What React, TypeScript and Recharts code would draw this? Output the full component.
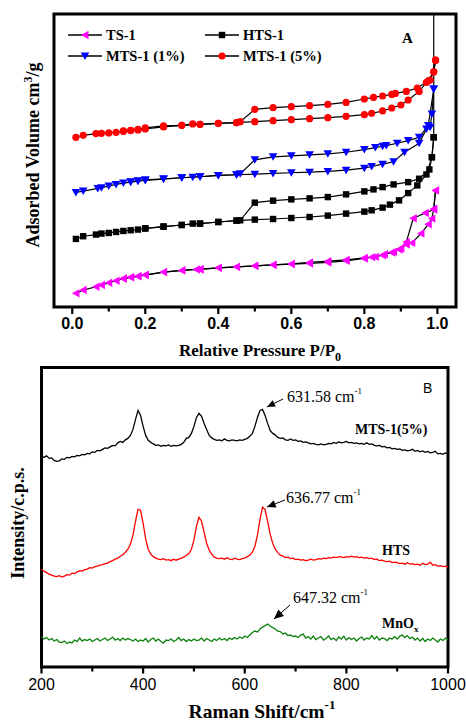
import { LineChart, Line, XAxis, YAxis, ReferenceArea } from "recharts"

// ---- Panel A: N2 isotherms, [P/P0, adsorbed volume (arb. units)] ----
const ts1Ads: [number, number][] = [
  [0.01, 13.7], [0.03, 17], [0.065, 20.3], [0.08, 22], [0.1, 24.3], [0.12, 26.3], [0.14, 28.3],
  [0.16, 29.7], [0.18, 30.7], [0.2, 32], [0.25, 35], [0.3, 36.7], [0.34, 37.7], [0.35, 37.7],
  [0.4, 39.3], [0.45, 40.3], [0.5, 41.3], [0.55, 42.3], [0.6, 43], [0.65, 43.7], [0.7, 44.7],
  [0.75, 46.3], [0.8, 48.7], [0.82, 50], [0.85, 52], [0.875, 54.7], [0.895, 57.7], [0.915, 62.7],
  [0.93, 64.3], [0.955, 73.7], [0.975, 83], [0.985, 88.7], [0.99, 98.7], [0.995, 117],
]
const ts1Des: [number, number][] = [
  [0.995, 117], [0.99, 97.7], [0.967, 94.3], [0.934, 89], [0.915, 65.3], [0.9, 58.7], [0.88, 55.3],
  [0.855, 53], [0.83, 50.3], [0.8, 49.3], [0.75, 47.3], [0.7, 46], [0.65, 44.7], [0.6, 43.3],
  [0.55, 42.3], [0.5, 41.3], [0.45, 40.3], [0.4, 39.3], [0.35, 38], [0.3, 36.7], [0.25, 35],
  [0.2, 32.3], [0.18, 31], [0.16, 30], [0.14, 28.7],
]
const htsAds: [number, number][] = [
  [0.01, 68.3], [0.03, 71], [0.065, 72.7], [0.08, 73.7], [0.1, 74.3], [0.12, 75.3], [0.14, 76.3],
  [0.16, 77], [0.18, 77.7], [0.2, 79], [0.25, 80.7], [0.3, 82.3], [0.33, 83.7], [0.35, 83.7],
  [0.4, 85.3], [0.45, 86.7], [0.5, 87.7], [0.55, 88.3], [0.6, 89.3], [0.65, 90.3], [0.7, 91.7],
  [0.75, 93.7], [0.8, 95.7], [0.82, 97], [0.85, 99.7], [0.87, 102.7], [0.895, 107], [0.92, 114.3],
  [0.945, 122], [0.97, 133], [0.985, 150.3], [0.99, 170.3], [0.99, 330],
]
const htsDes: [number, number][] = [
  [0.99, 170.3], [0.985, 150.3], [0.978, 138], [0.95, 128.7], [0.92, 125.3], [0.88, 123],
  [0.85, 120.3], [0.825, 118], [0.8, 116], [0.75, 113], [0.7, 110.3], [0.65, 109], [0.6, 108],
  [0.55, 106.7], [0.5, 104.7], [0.46, 87], [0.45, 86.7], [0.4, 85.3], [0.35, 83.7], [0.3, 82.3],
  [0.25, 80.7], [0.2, 78.7],
]
const mts1Ads: [number, number][] = [
  [0.01, 115], [0.03, 116.3], [0.07, 119], [0.08, 119.7], [0.1, 121.3], [0.12, 123], [0.14, 124.3],
  [0.16, 125.3], [0.18, 126.3], [0.2, 127], [0.25, 128.3], [0.3, 129.7], [0.33, 130.3], [0.35, 130.7],
  [0.4, 132], [0.45, 132.7], [0.5, 133.3], [0.55, 134], [0.6, 134.7], [0.65, 135.3], [0.7, 136],
  [0.75, 137.3], [0.8, 139.3], [0.82, 141], [0.85, 143.3], [0.88, 145.7], [0.91, 155.3], [0.95, 164.3],
  [0.97, 178.7], [0.98, 180.3], [0.985, 193.7], [0.99, 218.7],
]
const mts1Des: [number, number][] = [
  [0.99, 218.7], [0.975, 182], [0.95, 170.3], [0.92, 167], [0.89, 164.3], [0.86, 162], [0.85, 161.3],
  [0.83, 160], [0.8, 158], [0.75, 155.3], [0.7, 153.7], [0.65, 152.7], [0.6, 151.7], [0.55, 150.7],
  [0.5, 147.7], [0.46, 133.7], [0.45, 132.7], [0.4, 132], [0.35, 130.7], [0.3, 129.7], [0.25, 128.7],
  [0.2, 127.7], [0.18, 126.7], [0.16, 125.7],
]
const mts5Ads: [number, number][] = [
  [0.01, 170.3], [0.03, 172.3], [0.065, 174], [0.08, 174.3], [0.1, 174.7], [0.12, 175.3], [0.14, 176.3],
  [0.16, 177], [0.18, 177.7], [0.2, 178.7], [0.25, 180.7], [0.3, 182.3], [0.33, 183.7], [0.35, 183.3],
  [0.4, 184.3], [0.45, 185], [0.5, 186], [0.55, 187], [0.6, 188], [0.65, 189], [0.7, 190],
  [0.75, 191.3], [0.8, 193], [0.82, 194.3], [0.85, 196.7], [0.875, 199.7], [0.9, 202.7], [0.92, 207.7],
  [0.95, 216.3], [0.97, 225.3], [0.98, 227.7], [0.99, 236], [0.995, 247.7],
]
const mts5Des: [number, number][] = [
  [0.995, 247.7], [0.99, 236], [0.975, 227], [0.945, 219.7], [0.915, 216.3], [0.885, 214.3],
  [0.875, 213.3], [0.85, 211.7], [0.825, 210.3], [0.8, 208.7], [0.75, 205.3], [0.7, 203.3],
  [0.65, 202], [0.6, 201], [0.55, 200], [0.5, 198.3], [0.46, 186], [0.45, 185], [0.4, 184.3],
  [0.35, 183.3], [0.3, 182.3], [0.25, 181.7], [0.2, 179.7], [0.18, 178.3], [0.16, 177.3], [0.14, 176.7],
]
const pressureTicks = [0, 0.1, 0.2, 0.3, 0.4, 0.5, 0.6, 0.7, 0.8, 0.9, 1.0]
const pressureLabels = ["0.0", "", "0.2", "", "0.4", "", "0.6", "", "0.8", "", "1.0"]

// ---- Panel B: Raman spectra, sampled every 5 cm-1 from 200 to 1000 ----
const shiftStart = 200
const shiftStep = 5
const mts5Raman = [
  217, 216, 217.5, 215, 215.5, 213, 212, 212.5, 214.5, 214, 216, 215.5, 217, 216.5, 218, 217.5,
  219, 218.5, 220, 219.5, 221.5, 221, 223, 222.5, 224, 225.5, 225, 226.5, 228, 227.5, 230.5, 232,
  231, 233.5, 235, 238, 244, 254, 263, 258, 247, 238, 233, 231, 229.5, 228, 228.5, 227, 228, 227.5,
  228.5, 227, 228, 227.5, 228, 229, 231, 235, 236, 240, 247, 256, 260, 257, 250, 244, 238, 235.5,
  234, 233, 233.5, 232.5, 234.5, 233, 232.5, 233.5, 233, 232.5, 233.5, 233, 234, 235, 237, 240, 247,
  256, 263, 264, 258, 250, 243, 240, 238.5, 236, 235, 235.5, 233.5, 233, 234.5, 233, 233.5, 232,
  232.5, 231, 231.5, 230.5, 229.5, 230, 229, 228.5, 229.5, 228.5, 229, 230, 229.5, 231, 230, 231.5,
  230.5, 231, 232, 230.5, 231, 230, 230.5, 229.5, 230, 229, 230.5, 229, 229.5, 228, 227.5, 228,
  226.5, 227, 225.5, 226, 224.5, 225, 224, 224.5, 223, 223.5, 222.5, 223, 224, 222, 223, 221.5,
  222.5, 221, 222, 220.5, 221, 222, 219.5, 220, 219, 220.5, 219.5,
]
const htsRaman = [
  104, 102, 100.5, 99, 98, 97, 96.5, 97.5, 96, 97, 98.5, 98, 100, 99.5, 101, 102.5, 102, 103.5, 104,
  105.5, 105, 106.5, 107, 108, 108.5, 109.5, 110, 111.5, 112.5, 114, 115, 117, 118.5, 121, 124, 129,
  138, 152, 164, 163, 150, 134, 124, 119, 116.5, 115, 114, 113.5, 114.5, 113, 113.5, 112.5, 114, 113,
  114, 115, 116, 118, 119.5, 124, 133, 147, 156, 152, 141, 130, 123, 119, 116, 115, 114.5, 115, 114,
  115.5, 114, 113.5, 115, 114, 113.5, 114.5, 115, 116.5, 118, 121, 127, 138, 154, 166, 164, 152, 139,
  130, 124, 120.5, 118, 117, 115.5, 116, 114.5, 115, 113.5, 114, 113, 113.5, 112.5, 113, 114, 113,
  113.5, 114.5, 114, 115, 114.5, 115.5, 115, 116, 115.5, 116.5, 116, 115.5, 116.5, 116, 117, 116,
  116.5, 115.5, 116, 115, 115.5, 114.5, 115, 113.5, 114, 112.5, 113, 112, 111.5, 112, 110.5, 111,
  110.5, 109.5, 110, 109, 110.5, 109, 109.5, 108.5, 109, 108, 110, 108.5, 109, 111, 108, 108.5, 107,
  107.5, 106.5, 107, 106,
]
const mnoxRaman = [
  36, 34, 35.5, 33, 34.5, 32, 33.5, 31, 30.5, 32, 29.5, 31, 30, 33, 31.5, 35, 32, 33.5, 32.5, 34,
  31.5, 33, 34.5, 32, 33.5, 35, 32.5, 34, 36, 33, 34.5, 32.5, 35, 33, 34.5, 33.5, 32, 34, 31.5, 33,
  32, 34.5, 31, 33.5, 35, 32, 34, 31.5, 30, 33, 32.5, 34, 31.5, 33, 35.5, 32.5, 34, 31.5, 33.5, 32,
  34, 32.5, 33, 35, 32, 34.5, 33, 31.5, 34, 32.5, 35, 33, 34.5, 32.5, 35, 33.5, 35.5, 34, 36, 34.5,
  37, 35.5, 38, 40.5, 42, 41, 44, 46, 47.5, 49, 47, 45.5, 44, 42, 41.5, 39, 40, 37.5, 38, 36.5, 37,
  35.5, 38, 39, 35, 36.5, 34, 37, 33.5, 35, 36.5, 33, 34.5, 37, 33.5, 35, 32.5, 36, 34, 37, 33, 35.5,
  33.5, 35, 32, 34.5, 36, 33, 35, 34, 37.5, 34, 36.5, 33, 35, 34.5, 32.5, 35, 34, 36.5, 34, 37, 38,
  35.5, 37.5, 34.5, 36, 33, 35, 32, 34.5, 31.5, 34, 32.5, 35, 33, 31, 34, 32.5, 35, 33,
]
const shiftTicks = [200, 300, 400, 500, 600, 700, 800, 900, 1000]
const shiftLabels = ["200", "", "400", "", "600", "", "800", "", "1000"]

const ramanData = mts5Raman.map((v, i) => ({
  w: shiftStart + i * shiftStep,
  mts5: v,
  hts: htsRaman[i],
  mnox: mnoxRaman[i],
}))

const toPoints = (arr: [number, number][]) => arr.map(([p, v]) => ({ p, v }))

const serif = "Liberation Serif"
const sans = "Liberation Sans"

const TS_COLOR = "#ff00ff"
const MTS1_COLOR = "#0000ff"
const MTS5_COLOR = "#ff0000"

const P_DOMAIN: [number, number] = [-0.05, 1.051]
const V_DOMAIN: [number, number] = [0, 294]
const W_DOMAIN: [number, number] = [200, 1000]
const I_DOMAIN: [number, number] = [6, 306]
const TICK_GAP = 10

function markerShape(kind: string, cx: number, cy: number, key?: string | number) {
  if (kind === "left")
    return <path key={key} d={`M${cx - 4},${cy} L${cx + 3.5},${cy - 4.2} L${cx + 3.5},${cy + 4.2} Z`} fill={TS_COLOR} />
  if (kind === "square")
    return <rect key={key} x={cx - 3.2} y={cy - 3.2} width={6.4} height={6.4} fill="#000" />
  if (kind === "down")
    return <path key={key} d={`M${cx - 4.3},${cy - 3.5} L${cx + 4.3},${cy - 3.5} L${cx},${cy + 4} Z`} fill={MTS1_COLOR} />
  return <circle key={key} cx={cx} cy={cy} r={3.6} fill={MTS5_COLOR} />
}

const dotFor = (kind: string) => (props: any) => {
  const { cx, cy, index } = props
  if (cx == null || cy == null) return <g key={index} />
  return markerShape(kind, cx, cy, index)
}

// tick mark + label drawn together (the axis sits TICK_GAP above the y we get)
const PressureTick = (props: any) => {
  const { x, y, payload } = props
  const axisY = y - TICK_GAP
  const label = pressureLabels[pressureTicks.indexOf(payload.value)]
  return (
    <g>
      <line x1={x} x2={x} y1={axisY} y2={axisY + (label ? 7 : 4.5)} stroke="#000" strokeWidth={2.2} />
      {label ? (
        <text x={x} y={axisY + 21.5} textAnchor="middle" fontFamily={sans} fontWeight={700} fontSize={16} fill="#000">
          {label}
        </text>
      ) : null}
    </g>
  )
}

const ShiftTick = (props: any) => {
  const { x, y, payload } = props
  const axisY = y - TICK_GAP
  const label = shiftLabels[shiftTicks.indexOf(payload.value)]
  return (
    <g>
      <line x1={x} x2={x} y1={axisY} y2={axisY + (label ? 6.5 : 4.5)} stroke="#000" strokeWidth={2.2} />
      {label ? (
        <text x={x} y={axisY + 23} textAnchor="middle" fontFamily={sans} fontSize={16} fill="#000">
          {label}
        </text>
      ) : null}
    </g>
  )
}

const isoSeries = [
  { name: "ts-ads", data: ts1Ads, kind: "left" },
  { name: "ts-des", data: ts1Des, kind: "left" },
  { name: "hts-ads", data: htsAds, kind: "square" },
  { name: "hts-des", data: htsDes, kind: "square" },
  { name: "m1-ads", data: mts1Ads, kind: "down" },
  { name: "m1-des", data: mts1Des, kind: "down" },
  { name: "m5-ads", data: mts5Ads, kind: "circle" },
  { name: "m5-des", data: mts5Des, kind: "circle" },
]

function IsothermChart() {
  return (
    <LineChart width={466} height={366} margin={{ top: 14, right: 10, bottom: 29, left: 54 }}>
      <XAxis
        xAxisId="bottom"
        dataKey="p"
        type="number"
        domain={P_DOMAIN}
        allowDataOverflow
        ticks={pressureTicks}
        interval={0}
        height={30}
        tickSize={0}
        tickMargin={TICK_GAP}
        axisLine={false}
        tickLine={false}
        tick={PressureTick}
      />
      <YAxis yAxisId="left" type="number" domain={V_DOMAIN} allowDataOverflow hide />
      <ReferenceArea
        xAxisId="bottom"
        yAxisId="left"
        x1={P_DOMAIN[0]}
        x2={P_DOMAIN[1]}
        y1={V_DOMAIN[0]}
        y2={V_DOMAIN[1]}
        fill="none"
        stroke="#000"
        strokeWidth={3}
        ifOverflow="visible"
      />
      {isoSeries.map((s) => (
        <Line
          key={s.name}
          data={toPoints(s.data)}
          dataKey="v"
          xAxisId="bottom"
          yAxisId="left"
          type="linear"
          stroke="#000"
          strokeWidth={1.2}
          dot={dotFor(s.kind)}
          isAnimationActive={false}
        />
      ))}
    </LineChart>
  )
}

function RamanChart() {
  return (
    <LineChart width={466} height={363} data={ramanData} margin={{ top: 7.5, right: 18, bottom: 26, left: 41.5 }}>
      <XAxis
        xAxisId="bottom"
        dataKey="w"
        type="number"
        domain={W_DOMAIN}
        ticks={shiftTicks}
        interval={0}
        height={30}
        tickSize={0}
        tickMargin={TICK_GAP}
        axisLine={false}
        tickLine={false}
        tick={ShiftTick}
      />
      <YAxis yAxisId="left" type="number" domain={I_DOMAIN} hide />
      <ReferenceArea
        xAxisId="bottom"
        yAxisId="left"
        x1={W_DOMAIN[0]}
        x2={W_DOMAIN[1]}
        y1={I_DOMAIN[0]}
        y2={I_DOMAIN[1]}
        fill="none"
        stroke="#000"
        strokeWidth={3}
        ifOverflow="visible"
      />
      <Line dataKey="mts5" xAxisId="bottom" yAxisId="left" type="linear" stroke="#000" strokeWidth={1.3} dot={false} isAnimationActive={false} />
      <Line dataKey="hts" xAxisId="bottom" yAxisId="left" type="linear" stroke="#ff0000" strokeWidth={1.3} dot={false} isAnimationActive={false} />
      <Line dataKey="mnox" xAxisId="bottom" yAxisId="left" type="linear" stroke="#0b800b" strokeWidth={1.3} dot={false} isAnimationActive={false} />
    </LineChart>
  )
}

const legendItems = [
  { label: "TS-1", kind: "left", x: 68, y: 35 },
  { label: "HTS-1", kind: "square", x: 205, y: 35 },
  { label: "MTS-1 (1%)", kind: "down", x: 68, y: 56 },
  { label: "MTS-1 (5%)", kind: "circle", x: 205, y: 56 },
]

const peakNotes = [
  { text: "631.58 cm", x: 287, y: 402, ax1: 283, ay1: 399, ax2: 267, ay2: 407 },
  { text: "636.77 cm", x: 286, y: 503, ax1: 285, ay1: 500, ax2: 267, ay2: 507 },
  { text: "647.32 cm", x: 293, y: 603, ax1: 290, ay1: 605, ax2: 274, ay2: 619 },
]

function Overlay() {
  return (
    <svg width={466} height={723} style={{ position: "absolute", left: 0, top: 0, pointerEvents: "none" }}>
      {/* panel A legend */}
      {legendItems.map((it) => (
        <g key={it.label}>
          <line x1={it.x} x2={it.x + 34} y1={it.y} y2={it.y} stroke="#000" strokeWidth={1.5} />
          {markerShape(it.kind, it.x + 17, it.y)}
          <text x={it.x + 38} y={it.y + 5} fontFamily={serif} fontWeight={700} fontSize={14.5} fill="#000">
            {it.label}
          </text>
        </g>
      ))}
      <text x={402} y={43} fontFamily={serif} fontWeight={700} fontSize={15} fill="#000">A</text>

      {/* panel A axis titles */}
      <text x={260} y={356} textAnchor="middle" fontFamily={serif} fontWeight={700} fontSize={17} fill="#000">
        Relative Pressure P/P<tspan dy={5} fontSize={12}>0</tspan>
      </text>
      <text transform="translate(39,155) rotate(-90)" textAnchor="middle" fontFamily={serif} fontWeight={700} fontSize={18} fill="#000">
        Adsorbed Volume cm<tspan dy={-7} fontSize={12}>3</tspan><tspan dy={7}>/g</tspan>
      </text>

      {/* panel B */}
      <text x={423} y={393} fontFamily={sans} fontSize={14} fill="#000">B</text>
      {peakNotes.map((n) => (
        <g key={n.text}>
          <line x1={n.ax1} y1={n.ay1} x2={n.ax2} y2={n.ay2} stroke="#000" strokeWidth={1} />
          <path
            d={`M${n.ax2},${n.ay2} l${(n.ax1 - n.ax2) * 0.45 - (n.ay1 - n.ay2) * 0.2},${(n.ay1 - n.ay2) * 0.45 + (n.ax1 - n.ax2) * 0.2} l${(n.ay1 - n.ay2) * 0.4},${-(n.ax1 - n.ax2) * 0.4} Z`}
            fill="#000"
          />
          <text x={n.x} y={n.y} fontFamily={serif} fontSize={16} fill="#000">
            {n.text}<tspan dy={-8} fontSize={9}>-1</tspan>
          </text>
        </g>
      ))}
      <text x={355} y={434} fontFamily={serif} fontWeight={700} fontSize={14} fill="#000">MTS-1(5%)</text>
      <text x={382} y={555} fontFamily={serif} fontWeight={700} fontSize={14} fill="#000">HTS</text>
      <text x={382} y={628} fontFamily={serif} fontWeight={700} fontSize={14} fill="#000">
        MnO<tspan dy={4} fontSize={9}>x</tspan>
      </text>
      <text x={262} y={718} textAnchor="middle" fontFamily={serif} fontWeight={700} fontSize={19.5} fill="#000">
        Raman Shift/cm<tspan dy={-9} fontSize={13}>-1</tspan>
      </text>
      <text transform="translate(24,523) rotate(-90)" textAnchor="middle" fontFamily={serif} fontWeight={700} fontSize={18} fill="#000">
        Intensity/c.p.s.
      </text>
    </svg>
  )
}

export default function App() {
  return (
    <div style={{ position: "absolute", left: 0, top: 0, width: 466, height: 723, background: "#fff" }}>
      <div style={{ position: "absolute", left: 0, top: 0 }}>
        <IsothermChart />
      </div>
      <div style={{ position: "absolute", left: 0, top: 360 }}>
        <RamanChart />
      </div>
      <Overlay />
    </div>
  )
}
